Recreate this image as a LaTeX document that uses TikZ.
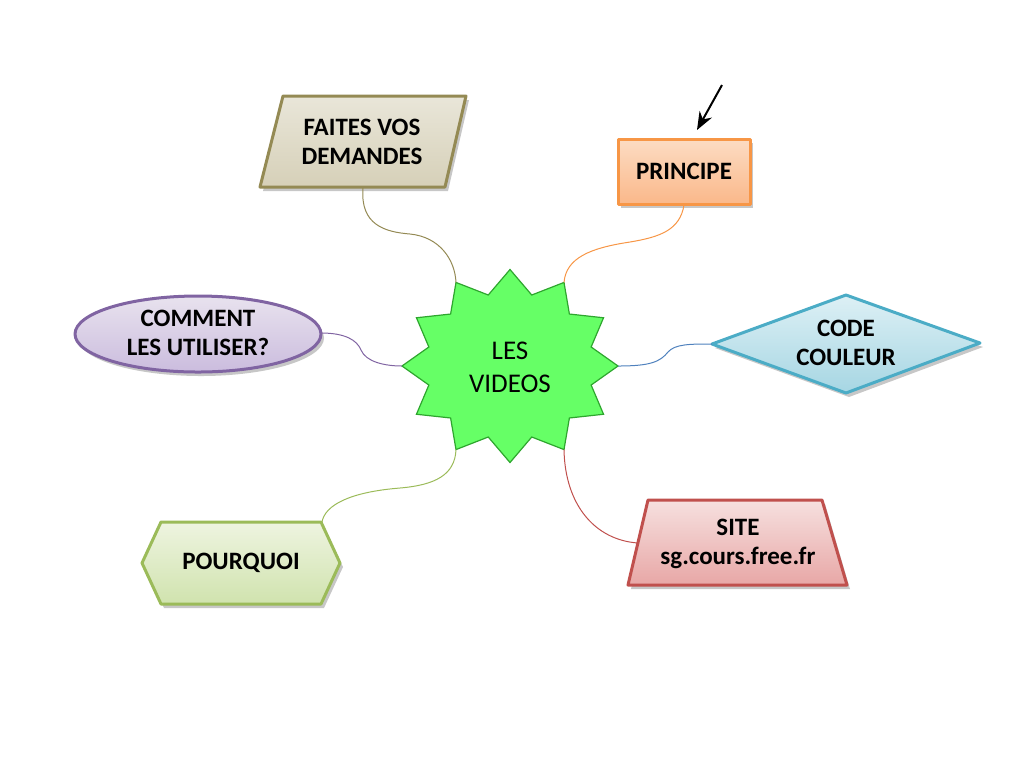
\documentclass[tikz,border=0pt]{standalone}
\usepackage{fontspec}
\setmainfont{Carlito}
\usetikzlibrary{arrows.meta}
\definecolor{tanB}{HTML}{948A54}\definecolor{tanT}{HTML}{E9E6D9}\definecolor{tanD}{HTML}{D6D0B8}
\definecolor{orB}{HTML}{F79646}\definecolor{orT}{HTML}{FCDCC3}\definecolor{orD}{HTML}{FAB88A}
\definecolor{puB}{HTML}{8064A2}\definecolor{puT}{HTML}{E8E2EE}\definecolor{puD}{HTML}{CBBCDE}
\definecolor{blB}{HTML}{4BACC6}\definecolor{blT}{HTML}{DDF0F5}\definecolor{blD}{HTML}{A6D6E3}
\definecolor{grB}{HTML}{9BBB59}\definecolor{grT}{HTML}{EEF4E0}\definecolor{grD}{HTML}{D0E3AE}
\definecolor{reB}{HTML}{C0504D}\definecolor{reT}{HTML}{F6E0DF}\definecolor{reD}{HTML}{E8A7A6}
\definecolor{stF}{HTML}{66FF66}\definecolor{stB}{HTML}{2EA62E}
\definecolor{coB}{HTML}{4F81BD}
\begin{document}
\begin{tikzpicture}[x=0.5pt,y=-0.5pt,
  shad/.style={fill=black,opacity=0.22,draw=none,shift={(3,4)}},
  boxline/.style={line width=1.5pt,line join=round},
  lbl/.style={font=\fontsize{12.5}{14.5}\selectfont\bfseries,align=center,inner sep=0pt},
  conn/.style={line width=0.5pt},
  ]
\useasboundingbox (0,0) rectangle (1024,768);

% ---- FAITES VOS DEMANDES (parallelogram)
\fill[shad] (283,96) -- (466,96) -- (445,187) -- (260,187) -- cycle;
\draw[boxline,draw=tanB,top color=tanT,bottom color=tanD] (283,96) -- (466,96) -- (445,187) -- (260,187) -- cycle;
\node[lbl] (fa) at (362,142) {FAITES VOS\\DEMANDES};
\coordinate (faS) at (363,188);

% ---- PRINCIPE (rectangle)
\fill[shad] (618,139) rectangle (750,204);
\draw[boxline,draw=orB,top color=orT,bottom color=orD] (618,139) rectangle (750,204);
\node[lbl] (pr) at (684,171) {PRINCIPE};
\coordinate (prS) at (684,205);

% ---- COMMENT LES UTILISER? (ellipse)
\fill[shad] (198,334) ellipse [x radius=123, y radius=38];
\draw[boxline,draw=puB,top color=puT,bottom color=puD] (198,334) ellipse [x radius=123, y radius=38];
\node[lbl] (co) at (198,333) {COMMENT\\LES UTILISER?};
\coordinate (coE) at (321,333);

% ---- CODE COULEUR (diamond)
\fill[shad] (712,344) -- (846,295) -- (980,343) -- (846,393) -- cycle;
\draw[boxline,draw=blB,top color=blT,bottom color=blD] (712,344) -- (846,295) -- (980,343) -- (846,393) -- cycle;
\node[lbl] (cc) at (846,343) {CODE\\COULEUR};
\coordinate (ccW) at (712,344);

% ---- POURQUOI (hexagon)
\fill[shad] (142,563) -- (161,522) -- (321,522) -- (340,563) -- (321,604) -- (161,604) -- cycle;
\draw[boxline,draw=grB,top color=grT,bottom color=grD] (142,563) -- (161,522) -- (321,522) -- (340,563) -- (321,604) -- (161,604) -- cycle;
\node[lbl] (po) at (241,563) {POURQUOI};
\coordinate (poN) at (322,522);

% ---- SITE (trapezoid)
\fill[shad] (648,500) -- (822,500) -- (847,585) -- (628,585) -- cycle;
\draw[boxline,draw=reB,top color=reT,bottom color=reD] (648,500) -- (822,500) -- (847,585) -- (628,585) -- cycle;
\node[lbl] (si) at (738,544) {SITE\\sg.cours.free.fr};
\coordinate (siW) at (638,543);

% ---- central star
\draw[fill=stF,draw=stB,line width=0.6pt,line join=miter]
  (510,269.5) \foreach \i [evaluate=\i as \rx using {ifthenelse(mod(\i,2)==0,108,84)},
                          evaluate=\i as \ry using {ifthenelse(mod(\i,2)==0,96.5,73.5)}] in {1,...,23}
  { -- ({510+\rx*cos(90-15*\i)},{366-\ry*sin(90-15*\i)}) } -- cycle;
\node[inner sep=0pt,align=center,font=\fontsize{13.5}{16.5}\selectfont] (vid) at (510,367) {LES\\VIDEOS};
\coordinate (s0) at (618,366);
\coordinate (s60) at (564,282.5);
\coordinate (s120) at (456,282.5);
\coordinate (s180) at (402,366);
\coordinate (s240) at (456,449.5);
\coordinate (s300) at (564,449.5);

% ---- connectors
\draw[conn,draw=tanB] (faS) .. controls (360,225) and (385,232) .. (410,234)
      .. controls (440,237) and (455,260) .. (s120);
\draw[conn,draw=orB] (prS) .. controls (680,230) and (660,237) .. (630,242)
      .. controls (590,248) and (566,258) .. (s60);
\draw[conn,draw=puB] (coE) .. controls (345,333) and (357,340) .. (361,350)
      .. controls (366,362) and (385,366) .. (s180);
\draw[conn,draw=coB] (s0) .. controls (650,366) and (660,362) .. (668,352)
      .. controls (675,344) and (690,344) .. (ccW);
\draw[conn,draw=grB] (s240) .. controls (455,475) and (435,485) .. (400,488)
      .. controls (350,492) and (325,505) .. (poN);
\draw[conn,draw=reB] (s300) .. controls (565,505) and (595,540) .. (siW);

% ---- arrow
\coordinate (arA) at (722,85);
\coordinate (arB) at (697,130);
\draw[line width=1pt,-{Stealth[length=9pt,width=7pt]}] (arA) -- (arB);
\end{tikzpicture}
\end{document}
